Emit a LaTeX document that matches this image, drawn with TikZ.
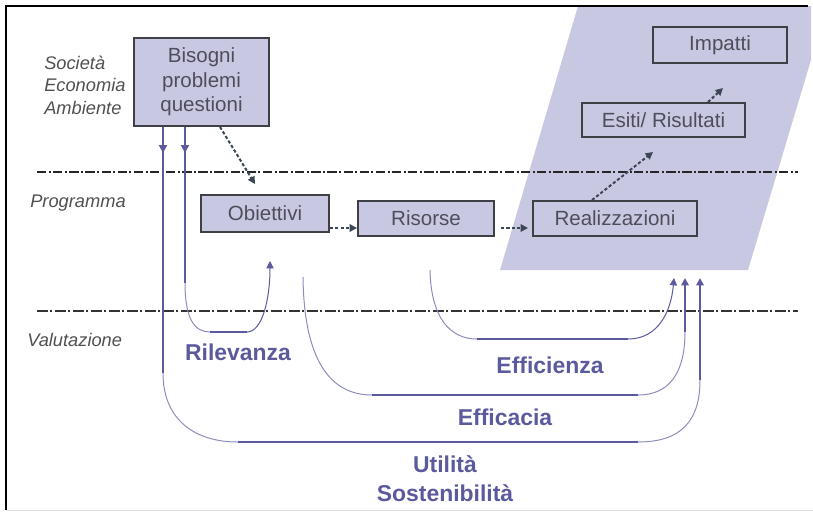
\documentclass[tikz,border=0pt]{standalone}
\usepackage{fontspec}
\setmainfont{Liberation Sans}
\usetikzlibrary{arrows.meta}
\definecolor{lav}{RGB}{201,200,227}
\definecolor{boxline}{RGB}{63,63,70}
\definecolor{boxtext}{RGB}{78,78,90}
\definecolor{purp}{RGB}{91,90,156}
\definecolor{purplight}{RGB}{140,140,190}
\definecolor{flow}{RGB}{59,70,86}
\definecolor{sidegray}{RGB}{80,80,80}
\begin{document}
\begin{tikzpicture}[x=0.75pt,y=-0.75pt,
  box/.style={draw=boxline, fill=lav, line width=1.4pt, inner sep=0pt,
    text=boxtext, align=center, font=\fontsize{15.4}{18.5}\selectfont},
  side/.style={text=sidegray, anchor=west, align=left, inner sep=0pt,
    font=\fontsize{13.7}{16.9}\selectfont\itshape},
  crit/.style={text=purp, align=center, inner sep=0pt,
    font=\fontsize{17.2}{20.2}\selectfont\bfseries},
  flowarrow/.style={draw=flow, line width=1.5pt, dash pattern=on 2.4pt off 1.6pt,
    -{Triangle[length=5.5pt,width=5.5pt]}},
  mainline/.style={draw=purp, line width=1.5pt},
  curvedpart/.style={draw=purplight, line width=0.75pt},
  uptip/.style={-{Triangle[length=5.5pt,width=5.5pt]}}
]
\useasboundingbox (0,0) rectangle (813,512);

% results area
\fill[lav] (578,6) -- (811,6) -- (811,60) -- (748,270) -- (500,270) -- cycle;

% frame
\draw[black, line width=1.6pt] (6,510) -- (6,6) -- (808,6);
\draw[black!12, line width=0.8pt] (6,510.5) -- (813,510.5);

% level separators
\draw[black!85, line width=2.2pt, dash pattern=on 7pt off 1.8pt on 1.5pt off 1.8pt] (37,172) -- (798,172);
\draw[black!80, line width=1.1pt, dash pattern=on 8pt off 2pt on 1.5pt off 2pt] (37,311) -- (798,311);

% level labels
\node[side] (soc) at (44,85) {Società\\Economia\\Ambiente};
\node[side] (prog) at (30,203) {Programma};
\node[side] (valu) at (27,340) {Valutazione};

% boxes
\node[box, minimum width=101.25pt, minimum height=66pt] (bis) at (201.5,82) {Bisogni\\problemi\\questioni};
\node[box, minimum width=96pt, minimum height=27.75pt] (obi) at (265,213.5) {Obiettivi};
\node[box, minimum width=102pt, minimum height=26.25pt] (ris) at (426,218.5) {Risorse};
\node[box, minimum width=123pt, minimum height=26.25pt] (rea) at (615,218.5) {Realizzazioni};
\node[box, minimum width=122.25pt, minimum height=25.5pt] (esi) at (663.5,120) {Esiti/ Risultati};
\node[box, minimum width=100.5pt, minimum height=27pt] (imp) at (720,45) {Impatti};

% free ends of the flow arrows
\coordinate (bo) at (255,184);
\coordinate (ri0) at (501,228);
\coordinate (re1) at (528,228);
\coordinate (es) at (653,152);
\coordinate (ie0) at (708,103);
\coordinate (im) at (723,88);

\draw[flowarrow] (bis.south -| 220,0) -- (bo);
\draw[flowarrow] (obi.east |- 0,228) -- (ris.west |- 0,228);
\draw[flowarrow] (ri0) -- (re1);
\draw[flowarrow] (rea.north -| 592,0) -- (es);
\draw[flowarrow] (esi.north -| ie0) -- (im);

% evaluation loops: anchors
\coordinate (u0) at (163,126);
\coordinate (u1) at (163,373);
\coordinate (u2) at (238,442);
\coordinate (u3) at (638,442);
\coordinate (u4) at (700,380);
\coordinate (u5) at (700,278);

\coordinate (r0) at (185,126);
\coordinate (r1) at (185,283);
\coordinate (r2) at (210,332);
\coordinate (r3) at (247,332);
\coordinate (r4) at (270,261);

\coordinate (a0) at (303,277);
\coordinate (a1) at (372,395);
\coordinate (a2) at (638,395);
\coordinate (a3) at (685,332);
\coordinate (a4) at (685,278);

\coordinate (f0) at (430,270);
\coordinate (f1) at (477,339);
\coordinate (f2) at (628,339);
\coordinate (f3) at (674,278);

% Utilità / Sostenibilità
\draw[mainline] (bis.south -| u0) -- (u1);
\draw[mainline, -{Triangle[length=6pt,width=6pt]}] (bis.south -| u0) -- (163,153);
\draw[curvedpart] (u1) .. controls (163,420) and (195,442) .. (u2);
\draw[mainline] (u2) -- (u3);
\draw[curvedpart] (u3) .. controls (682,442) and (700,420) .. (u4);
\draw[mainline, uptip] (u4) -- (u5);

% Rilevanza
\draw[mainline] (bis.south -| r0) -- (r1);
\draw[mainline, -{Triangle[length=6pt,width=6pt]}] (bis.south -| r0) -- (185,153);
\draw[curvedpart] (r1) .. controls (185,320) and (195,332) .. (r2);
\draw[mainline] (r2) -- (r3);
\draw[curvedpart, uptip, purp] (r3) .. controls (262,332) and (270,300) .. (r4);

% Efficacia
\draw[curvedpart] (a0) .. controls (304,360) and (330,395) .. (a1);
\draw[mainline] (a1) -- (a2);
\draw[curvedpart] (a2) .. controls (670,395) and (685,372) .. (a3);
\draw[mainline, uptip] (a3) -- (a4);

% Efficienza
\draw[curvedpart] (f0) .. controls (431,318) and (450,339) .. (f1);
\draw[mainline] (f1) -- (f2);
\draw[curvedpart, uptip, purp] (f2) .. controls (658,339) and (671,312) .. (f3);

% criteria labels
\node[crit] (ril) at (238,352) {Rilevanza};
\node[crit] (effz) at (550,365) {Efficienza};
\node[crit] (effc) at (505,417) {Efficacia};
\node[crit] (uts) at (445,478.5) {Utilità\\[2pt]Sostenibilità};
\end{tikzpicture}
\end{document}
